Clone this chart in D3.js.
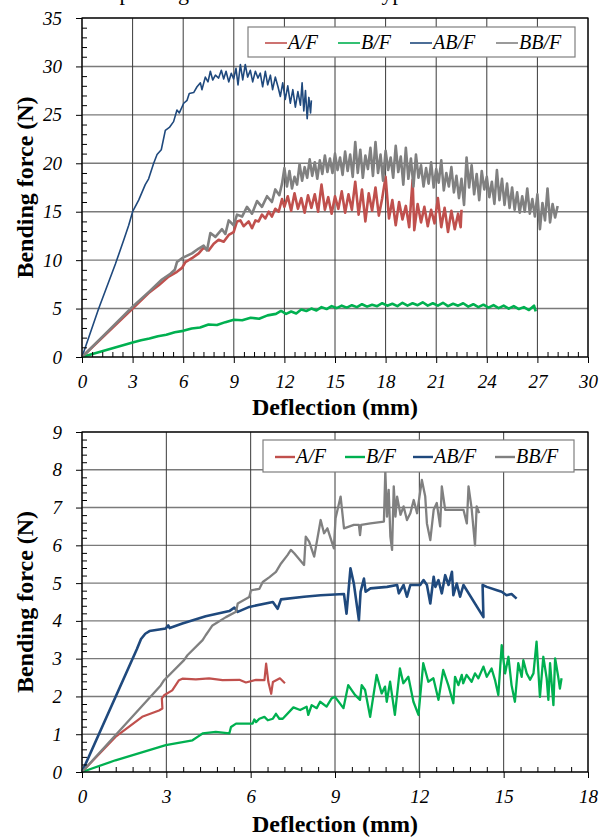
<!DOCTYPE html>
<html>
<meta charset="utf-8">
<style>
body { margin: 0; background: #fff; }
svg { display: block; }
.axis-title { font-family: "Liberation Serif", serif; font-weight: bold; font-size: 24px; }
.legend text { font-family: "Liberation Serif", serif; font-style: italic; font-size: 20px; }
.caption { font-family: "Liberation Serif", serif; font-size: 22px; }
</style>
<body>
<svg width="601" height="839"></svg>
<script src="https://cdn.jsdelivr.net/npm/d3@7/dist/d3.min.js"></script>
<script>

var names = ["A/F", "B/F", "AB/F", "BB/F"];
var colors = ["#c0504d", "#00b050", "#1f497d", "#808080"];

// ---- upper chart: deflection (mm) vs bending force (N)
var topXTicks = [0, 3, 6, 9, 12, 15, 18, 21, 24, 27, 30];
var topYTicks = [0, 5, 10, 15, 20, 25, 30, 35];

var topAF = [[0,0],[1.5,2.5],[3.0,5.0],[3.95,6.6],[4.55,7.4],[5.14,8.3],[5.63,8.8],[5.93,9.2],[6.13,9.8],[6.52,10.2],
  [6.92,10.7],[7.21,11.3],[7.51,11.0],[7.81,11.7],[8.10,12.1],[8.40,11.9],[8.70,12.6],[8.99,12.9],[9.19,14.0],[9.39,14.1],
  [9.58,13.5],[9.88,14.0],[10.08,13.3],[10.28,14.1],[10.47,14.0],[10.67,14.7],[10.87,14.3],[11.07,15.0],[11.26,14.5],[11.46,15.3],
  [11.66,15.0],[11.86,16.3],[12.0,15.5],[12.2,16.6],[12.4,15.1],[12.6,16.9],[12.8,15.3],[13.0,16.4],[13.2,14.9],[13.4,16.7],
  [13.6,15.4],[13.8,16.8],[14.0,15.0],[14.2,17.8],[14.4,15.2],[14.6,16.5],[14.8,14.8],[15.0,16.6],[15.2,15.3],[15.4,17.1],
  [15.6,14.9],[15.8,16.8],[16.0,15.2],[16.2,18.1],[16.4,14.7],[16.6,17.3],[16.8,14.0],[17.0,16.9],[17.2,15.1],[17.4,17.5],
  [17.6,14.6],[17.8,16.4],[18.0,18.6],[18.2,14.3],[18.4,16.2],[18.6,13.6],[18.8,16.0],[19.0,14.2],[19.2,15.6],[19.4,13.4],
  [19.6,18.3],[19.7,13.1],[19.9,15.8],[20.1,13.9],[20.3,15.5],[20.5,13.5],[20.7,15.2],[20.9,13.8],[21.1,16.4],[21.3,13.4],
  [21.5,15.4],[21.7,12.9],[21.9,15.1],[22.1,13.2],[22.3,14.8],[22.45,13.4],[22.5,15.2]];

var topBF = [[0,0],[1.5,0.75],[3.0,1.5],[3.5,1.72],[4.0,1.9],[4.5,2.15],[5.0,2.3],[5.5,2.55],[6.0,2.7],[6.5,2.95],
  [7.0,3.05],[7.5,3.35],[8.0,3.3],[8.5,3.6],[9.0,3.85],[9.5,3.8],[10.0,4.05],[10.5,3.95],[11.0,4.3],[11.5,4.45],
  [11.8,4.75],[12.1,4.45],[12.4,4.7],[12.7,4.5],[13.0,4.9],[13.3,4.75],[13.6,5.0],[13.9,4.8],[14.2,5.15],[14.5,4.95],
  [14.8,5.25],[15.1,5.05],[15.4,5.3],[15.7,5.1],[16.0,5.35],[16.3,5.15],[16.6,5.45],[16.9,5.2],[17.2,5.4],[17.5,5.25],
  [17.8,5.55],[18.1,5.3],[18.4,5.5],[18.7,5.25],[19.0,5.6],[19.3,5.3],[19.6,5.55],[19.9,5.35],[20.2,5.65],[20.5,5.3],
  [20.8,5.55],[21.1,5.3],[21.4,5.6],[21.7,5.25],[22.0,5.5],[22.3,5.3],[22.6,5.55],[22.9,5.2],[23.2,5.45],[23.5,5.15],
  [23.8,5.4],[24.1,5.1],[24.4,5.35],[24.7,5.05],[25.0,5.3],[25.3,5.0],[25.6,5.25],[25.9,4.95],[26.2,5.15],[26.5,4.85],
  [26.8,5.3],[26.9,4.7]];

var topABF = [[0,0],[0.99,5.0],[1.98,9.6],[2.5,12.2],[2.77,13.6],[3.0,15.0],[3.36,16.2],[3.75,17.8],[3.95,18.4],[4.25,20.0],
  [4.45,20.9],[4.70,21.4],[4.94,23.4],[5.18,23.7],[5.43,24.3],[5.63,25.5],[5.77,25.2],[6.03,26.2],[6.23,26.5],[6.36,27.2],
  [6.62,27.3],[6.82,27.9],[7.02,28.3],[7.11,27.6],[7.31,28.9],[7.47,28.4],[7.61,29.5],[7.75,28.6],[7.91,29.1],[8.10,28.8],
  [8.26,29.6],[8.40,28.7],[8.54,29.5],[8.70,28.4],[8.85,29.3],[8.99,28.7],[9.13,29.8],[9.25,28.1],[9.39,30.2],[9.53,28.6],
  [9.68,30.2],[9.82,28.9],[9.98,29.6],[10.12,28.4],[10.28,29.5],[10.43,28.8],[10.57,29.3],[10.71,27.9],[10.87,29.5],[11.01,28.1],
  [11.17,29.1],[11.30,27.6],[11.46,28.9],[11.62,27.9],[11.76,26.9],[11.9,28.3],[12.05,26.6],[12.2,28.0],[12.35,26.2],[12.5,27.6],
  [12.65,25.8],[12.8,27.4],[12.95,26.0],[13.05,28.3],[13.15,25.4],[13.25,27.5],[13.35,24.6],[13.45,26.8],[13.55,25.2],[13.6,26.5]];

var topBBF = [[0,0],[1.5,2.6],[3.0,5.2],[3.95,6.7],[4.74,8.0],[5.24,8.6],[5.5,9.0],[5.63,9.8],[5.93,10.2],[6.52,10.7],
  [6.92,11.2],[7.21,11.5],[7.41,11.0],[7.61,12.8],[7.91,12.4],[8.30,13.2],[8.50,12.7],[8.70,14.1],[8.99,13.6],[9.19,14.7],
  [9.49,14.5],[9.78,15.5],[10.08,14.8],[10.38,16.1],[10.67,15.5],[10.97,16.6],[11.26,16.0],[11.46,17.3],[11.70,16.7],[11.86,17.9],
  [12.0,19.5],[12.15,17.6],[12.3,19.2],[12.45,17.4],[12.6,18.6],[12.75,17.8],[12.9,19.9],[13.05,18.2],[13.2,19.6],[13.35,18.5],
  [13.5,20.4],[13.65,18.7],[13.8,20.1],[13.95,18.4],[14.1,20.3],[14.25,18.9],[14.4,20.8],[14.55,19.1],[14.7,20.5],[14.85,19.0],
  [15.0,21.0],[15.15,19.3],[15.3,20.6],[15.45,18.8],[15.6,21.2],[15.75,19.2],[15.9,20.9],[16.05,18.6],[16.2,22.2],[16.35,19.0],
  [16.5,21.4],[16.65,18.5],[16.8,20.8],[16.95,19.4],[17.1,21.6],[17.25,18.7],[17.4,22.2],[17.55,19.0],[17.7,20.9],[17.85,18.2],
  [18.0,21.3],[18.15,19.3],[18.3,20.6],[18.45,18.5],[18.6,21.8],[18.75,19.1],[18.9,20.7],[19.05,17.8],[19.2,21.6],[19.35,18.4],
  [19.5,20.5],[19.65,17.6],[19.8,20.9],[19.95,18.5],[20.1,19.8],[20.25,17.6],[20.4,19.5],[20.55,17.9],[20.7,20.1],[20.85,17.5],
  [21.0,19.4],[21.15,18.0],[21.3,20.3],[21.45,17.2],[21.6,19.0],[21.75,17.6],[21.9,19.6],[22.05,17.0],[22.2,18.7],[22.35,16.4],
  [22.5,18.4],[22.65,15.7],[22.8,20.6],[22.95,17.5],[23.1,19.8],[23.25,16.8],[23.4,18.9],[23.55,16.2],[23.7,19.2],[23.85,17.3],
  [24.0,18.6],[24.15,16.5],[24.3,18.1],[24.45,15.8],[24.6,19.3],[24.75,16.2],[24.9,18.4],[25.05,15.7],[25.2,17.9],[25.35,15.4],
  [25.5,17.5],[25.65,15.2],[25.8,17.0],[25.95,14.9],[26.1,16.6],[26.25,15.0],[26.4,17.4],[26.55,14.8],[26.7,16.3],[26.85,14.5],
  [27.0,16.8],[27.15,13.2],[27.3,15.9],[27.45,14.1],[27.6,17.4],[27.75,13.9],[27.9,15.8],[28.05,14.4],[28.2,15.6]];

// ---- lower chart
var botXTicks = [0, 3, 6, 9, 12, 15, 18];
var botYTicks = [0, 1, 2, 3, 4, 5, 6, 7, 8, 9];

var botAF = [[0,0],[1.19,0.93],[2.14,1.46],[2.74,1.63],[2.86,1.68],[2.84,1.95],[2.92,2.03],[3.21,2.16],[3.45,2.43],[3.57,2.47],
  [4.05,2.45],[4.52,2.48],[5.0,2.43],[5.6,2.44],[5.83,2.37],[6.19,2.44],[6.49,2.43],[6.55,2.87],[6.63,2.38],[6.73,2.07],
  [6.79,2.38],[7.04,2.48],[7.22,2.35]];

var botBF = [[0,0],[1.19,0.31],[2.98,0.71],[3.93,0.84],[4.11,0.93],[4.29,1.02],[4.76,1.06],[5.24,1.02],[5.3,1.19],[5.48,1.28],
  [6.07,1.28],[6.13,1.39],[6.19,1.32],[6.31,1.41],[6.49,1.46],[6.61,1.37],[6.79,1.41],[6.9,1.54],[7.02,1.41],[7.14,1.41],
  [7.52,1.71],[7.76,1.64],[7.99,1.73],[8.05,1.51],[8.17,1.77],[8.35,1.69],[8.47,1.86],[8.70,1.73],[8.88,1.95],[9.0,1.99],
  [9.30,1.69],[9.47,2.30],[9.71,2.04],[9.89,1.91],[9.95,2.30],[10.07,2.17],[10.25,1.46],[10.48,2.57],[10.66,2.08],[10.78,2.26],
  [10.84,1.86],[10.96,2.39],[11.13,1.51],[11.31,2.74],[11.43,2.35],[11.61,2.52],[11.79,1.86],[11.97,1.51],[12.14,2.88],[12.32,2.39],
  [12.50,2.48],[12.68,1.91],[12.85,2.70],[13.03,2.30],[13.21,1.82],[13.27,2.52],[13.39,2.30],[13.51,2.57],[13.56,2.35],[13.68,2.57],
  [13.86,2.39],[13.98,2.61],[14.10,2.48],[14.28,2.79],[14.40,2.52],[14.57,2.74],[14.69,2.44],[14.81,2.04],[14.93,3.36],[15.05,2.61],
  [15.17,3.05],[15.28,2.30],[15.40,1.86],[15.52,2.88],[15.64,2.52],[15.70,2.96],[15.82,2.61],[15.94,2.44],[16.06,2.61],[16.17,3.45],
  [16.29,1.99],[16.41,3.05],[16.53,2.48],[16.59,1.91],[16.65,2.88],[16.77,1.77],[16.83,3.01],[16.94,2.52],[17.0,2.21],[17.06,2.48]];

var botABF = [[0,0],[1.95,3.25],[2.1,3.52],[2.25,3.66],[2.4,3.73],[2.98,3.80],[3.07,3.88],[3.12,3.81],[3.57,3.93],[4.4,4.12],
  [5.24,4.26],[5.42,4.35],[5.54,4.24],[5.95,4.37],[6.79,4.5],[6.96,4.32],[7.08,4.57],[7.90,4.64],[8.49,4.68],[9.32,4.71],
  [9.41,4.19],[9.55,5.39],[9.67,4.99],[9.85,4.02],[9.91,4.77],[10.03,5.12],[10.09,4.77],[10.26,4.86],[10.85,4.90],[11.21,4.95],
  [11.27,4.73],[11.44,4.95],[11.56,4.64],[11.68,4.95],[12.03,4.95],[12.15,5.08],[12.27,4.95],[12.39,4.46],[12.51,5.17],[12.57,4.90],
  [12.68,5.08],[12.80,4.73],[12.92,5.21],[13.04,4.95],[13.16,5.30],[13.21,4.68],[13.33,4.99],[13.45,4.64],[13.57,4.95],[14.28,4.10],
  [14.25,4.95],[14.4,4.90],[14.76,4.81],[14.93,4.77],[15.1,4.68],[15.28,4.71],[15.46,4.59]];

var botBBF = [[0,0],[2.80,2.29],[2.92,2.43],[3.63,2.96],[3.75,3.09],[4.29,3.49],[4.40,3.62],[4.52,3.75],[4.64,3.88],[5.12,4.10],
  [5.48,4.24],[5.54,4.46],[5.95,4.63],[6.01,4.81],[6.31,4.85],[6.43,5.03],[6.67,5.16],[6.90,5.30],[7.08,5.52],[7.31,5.74],
  [7.43,5.88],[7.55,5.79],[7.90,5.48],[7.96,6.23],[8.08,6.10],[8.26,5.70],[8.49,6.67],[8.61,6.32],[8.73,6.45],[8.96,5.92],
  [9.02,6.72],[9.20,7.29],[9.32,6.45],[9.67,6.54],[9.85,6.54],[9.89,6.27],[9.93,6.54],[10.26,6.58],[10.74,6.63],[10.79,7.96],
  [10.85,6.76],[10.91,7.47],[10.97,6.23],[11.03,5.88],[11.09,7.56],[11.15,6.76],[11.21,7.29],[11.33,6.81],[11.44,7.03],[11.56,6.67],
  [11.68,6.85],[11.80,7.20],[11.92,6.85],[12.09,7.73],[12.21,7.29],[12.27,6.58],[12.39,6.14],[12.51,6.94],[12.62,7.12],[12.74,6.50],
  [12.80,7.56],[12.92,6.94],[13.10,6.94],[13.57,6.94],[13.69,6.58],[13.75,7.56],[13.86,6.98],[13.98,6.0],[14.04,7.03],[14.13,6.85]];

var svg = d3.select("svg");

// caption of the figure above, cut off by the crop (only descenders show)
svg.append("text")
    .attr("class", "caption")
    .attr("x", 18)
    .attr("y", 0)
    .text("Results for printing direction in the four types");

var panels = [
  { series: [topAF, topBF, topABF, topBBF], widths: [2.6, 2.6, 1.6, 2.6],
    xTicks: topXTicks, yTicks: topYTicks, xMinor: 0.6, yMinor: 1,
    left: 82, right: 588, top: 18, bottom: 357, titleY: 415,
    legend: { x: 248, y: 27, w: 327, h: 30, offs: [17, 90, 162, 248], len: 22, lw: 1.6 } },
  { series: [botAF, botBF, botABF, botBBF], widths: [2.2, 2.3, 2.6, 2.3],
    xTicks: botXTicks, yTicks: botYTicks, xMinor: 0.6, yMinor: 0.2,
    left: 82, right: 588, top: 432, bottom: 772, titleY: 832,
    legend: { x: 263, y: 440, w: 311, h: 32, offs: [12, 82, 150, 232], len: 20, lw: 2.4 } }
];

panels.forEach(drawPanel);

function drawPanel(p) {
    var g = svg.append("g");
    var xMax = d3.max(p.xTicks), yMax = d3.max(p.yTicks);
    var x = d3.scaleLinear().domain([0, xMax]).range([p.left, p.right]);
    var y = d3.scaleLinear().domain([0, yMax]).range([p.bottom, p.top]);

    // grid
    g.append("g").selectAll("line")
        .data(p.yTicks)
      .enter().append("line")
        .attr("x1", p.left).attr("x2", p.right)
        .attr("y1", function(d) { return y(d); })
        .attr("y2", function(d) { return y(d); })
        .attr("stroke", "#7a7a7a")
        .attr("stroke-width", 1.4);
    g.append("g").selectAll("line")
        .data(p.xTicks)
      .enter().append("line")
        .attr("y1", p.top).attr("y2", p.bottom)
        .attr("x1", function(d) { return x(d); })
        .attr("x2", function(d) { return x(d); })
        .attr("stroke", "#3a3a3a")
        .attr("stroke-width", 1);

    // curves
    var line = d3.line()
        .x(function(d) { return x(d[0]); })
        .y(function(d) { return y(d[1]); });
    p.series.forEach(function(s, i) {
        g.append("path")
            .datum(s)
            .attr("d", line)
            .attr("fill", "none")
            .attr("stroke", colors[i])
            .attr("stroke-width", p.widths[i])
            .attr("stroke-linejoin", "round");
    });

    // minor ticks (inside)
    var xMinorVals = d3.range(0, xMax + 1e-6, p.xMinor).filter(function(v) {
        return Math.abs(v / 3 - Math.round(v / 3)) > 1e-6;
    });
    var yStep = p.yTicks[1] - p.yTicks[0];
    var yMinorVals = d3.range(0, yMax + 1e-6, p.yMinor).filter(function(v) {
        return Math.abs(v / yStep - Math.round(v / yStep)) > 1e-6;
    });
    g.append("g")
        .attr("transform", "translate(0," + p.bottom + ")")
        .call(d3.axisBottom(x).tickValues(xMinorVals).tickSize(-5).tickFormat(""))
        .call(function(a) { a.select(".domain").remove(); });
    g.append("g")
        .attr("transform", "translate(" + p.left + ",0)")
        .call(d3.axisLeft(y).tickValues(yMinorVals).tickSize(-5).tickFormat(""))
        .call(function(a) { a.select(".domain").remove(); });

    // major ticks with labels (outside)
    var xa = g.append("g")
        .attr("transform", "translate(0," + p.bottom + ")")
        .call(d3.axisBottom(x).tickValues(p.xTicks).tickSize(6).tickPadding(12).tickSizeOuter(0));
    var ya = g.append("g")
        .attr("transform", "translate(" + p.left + ",0)")
        .call(d3.axisLeft(y).tickValues(p.yTicks).tickSize(6).tickPadding(14).tickSizeOuter(0));
    [xa, ya].forEach(function(a) {
        a.select(".domain").remove();
        a.attr("font-family", "'Liberation Serif', serif")
         .attr("font-size", 19)
         .attr("font-style", "italic");
        a.selectAll("text").attr("fill", "#000");
    });

    // frame
    g.append("rect")
        .attr("x", p.left).attr("y", p.top)
        .attr("width", p.right - p.left).attr("height", p.bottom - p.top)
        .attr("fill", "none")
        .attr("stroke", "#000")
        .attr("stroke-width", 1.2);

    // legend
    var L = p.legend;
    var lg = g.append("g").attr("class", "legend");
    lg.append("rect")
        .attr("x", L.x).attr("y", L.y)
        .attr("width", L.w).attr("height", L.h)
        .attr("fill", "#fff")
        .attr("stroke", "#7f7f7f")
        .attr("stroke-width", 1.2);
    names.forEach(function(n, i) {
        var lx = L.x + L.offs[i], ly = L.y + L.h / 2 + 1;
        lg.append("line")
            .attr("x1", lx).attr("x2", lx + L.len)
            .attr("y1", ly).attr("y2", ly)
            .attr("stroke", colors[i])
            .attr("stroke-width", L.lw);
        lg.append("text")
            .attr("x", lx + L.len + 1)
            .attr("y", ly + 6)
            .text(n);
    });

    // axis titles
    g.append("text")
        .attr("class", "axis-title")
        .attr("text-anchor", "middle")
        .attr("x", (p.left + p.right) / 2)
        .attr("y", p.titleY)
        .text("Deflection (mm)");
    g.append("text")
        .attr("class", "axis-title")
        .attr("text-anchor", "middle")
        .attr("transform", "translate(33," + (p.top + p.bottom) / 2 + ") rotate(-90)")
        .text("Bending force (N)");
}
</script>
</body>
</html>
